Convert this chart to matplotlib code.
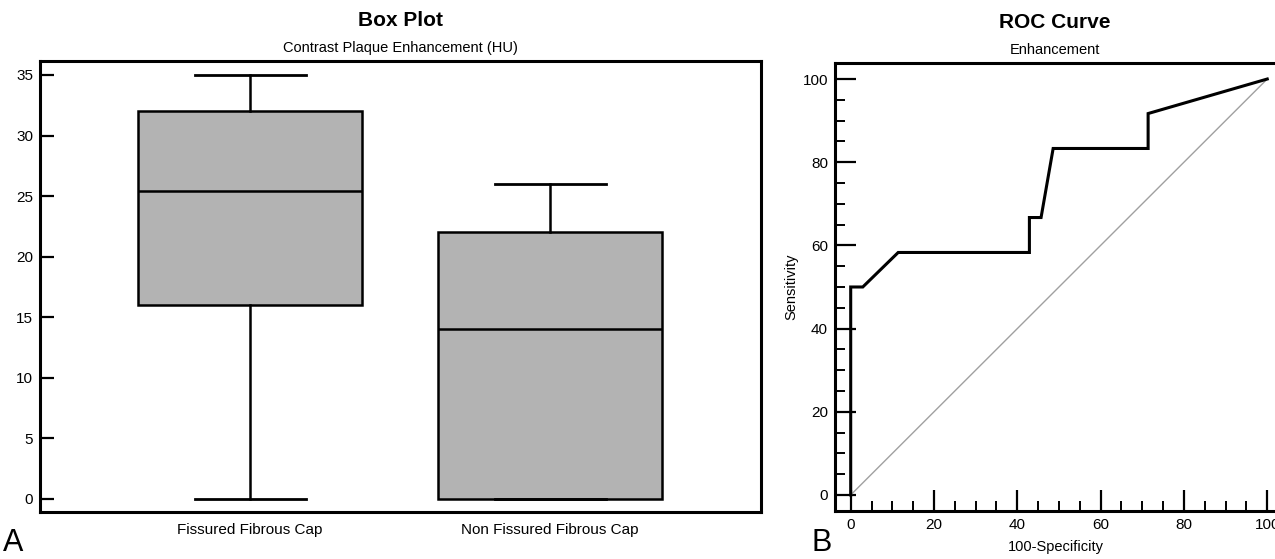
import matplotlib.pyplot as plt
from matplotlib.ticker import MultipleLocator

plt.rcParams['font.family'] = ['Liberation Sans', 'DejaVu Sans']

# Box plot summary values (HU)
groups = ["Fissured Fibrous Cap", "Non Fissured Fibrous Cap"]
whis_low = [0, 0]
q1 = [16, 0]
median = [25.4, 14]
q3 = [32, 22]
whis_high = [35, 26]

# ROC curve points
fpr = [0, 0, 2.9, 11.4, 42.9, 42.9, 45.7, 48.6, 71.4, 71.4, 100]
tpr = [0, 50, 50, 58.3, 58.3, 66.7, 66.7, 83.3, 83.3, 91.7, 100]

fig = plt.figure(figsize=(12.75, 5.59), dpi=100)

# ---- Panel A: box plot
ax1 = fig.add_axes([0.0314, 0.0841, 0.5655, 0.8068])
stats = []
for i in range(len(groups)):
    stats.append(dict(label=groups[i], whislo=whis_low[i], q1=q1[i], med=median[i],
                      q3=q3[i], whishi=whis_high[i], fliers=[]))
ax1.bxp(stats, positions=[1, 2], widths=0.745, patch_artist=True, showfliers=False,
        boxprops=dict(facecolor='#b3b3b3', edgecolor='black', linewidth=1.8),
        medianprops=dict(color='black', linewidth=1.8),
        whiskerprops=dict(color='black', linewidth=1.8),
        capprops=dict(color='black', linewidth=2.0),
        capwidths=0.37)
ax1.set_xlim(0.3, 2.703)
ax1.set_ylim(-1.073, 36.156)
ax1.set_yticks(range(0, 36, 5))
ax1.tick_params(axis='y', direction='in', length=10, width=1.6, pad=5, labelsize=11)
ax1.tick_params(axis='x', length=0, pad=8, labelsize=11)
for s in ax1.spines.values():
    s.set_linewidth(2.2)

fig.text(400 / 1275, 1 - 20 / 559, "Box Plot", ha='center', va='center',
         fontsize=15, fontweight='bold')
fig.text(400 / 1275, 1 - 48 / 559, "Contrast Plaque Enhancement (HU)", ha='center',
         va='center', fontsize=10.5)
fig.text(3 / 1275, 1 - 543 / 559, "A", ha='left', va='center', fontsize=22)

# ---- Panel B: ROC curve
ax2 = fig.add_axes([0.6549, 0.0859, 0.3467, 0.8014])
ax2.plot([0, 100], [0, 100], color='#a0a0a0', linewidth=1)
ax2.plot(fpr, tpr, color='black', linewidth=2.2, solid_joinstyle='miter')
ax2.set_xlim(-3.77, 102.35)
ax2.set_ylim(-3.85, 103.85)
ax2.xaxis.set_major_locator(MultipleLocator(20))
ax2.xaxis.set_minor_locator(MultipleLocator(5))
ax2.yaxis.set_major_locator(MultipleLocator(20))
ax2.yaxis.set_minor_locator(MultipleLocator(5))
ax2.tick_params(which='major', direction='in', length=15, width=1.6, pad=5, labelsize=11)
ax2.tick_params(which='minor', direction='in', length=7, width=1.4)
ax2.set_xlabel("100-Specificity", fontsize=10.5, labelpad=6)
ax2.set_ylabel("Sensitivity", fontsize=10.5, labelpad=3)
for s in ax2.spines.values():
    s.set_linewidth(2.2)

fig.text(1055 / 1275, 1 - 22 / 559, "ROC Curve", ha='center', va='center',
         fontsize=15, fontweight='bold')
fig.text(1055 / 1275, 1 - 50 / 559, "Enhancement", ha='center', va='center',
         fontsize=10.5)
fig.text(812 / 1275, 1 - 543 / 559, "B", ha='left', va='center', fontsize=22)

fig.savefig("out.png", dpi=100)
